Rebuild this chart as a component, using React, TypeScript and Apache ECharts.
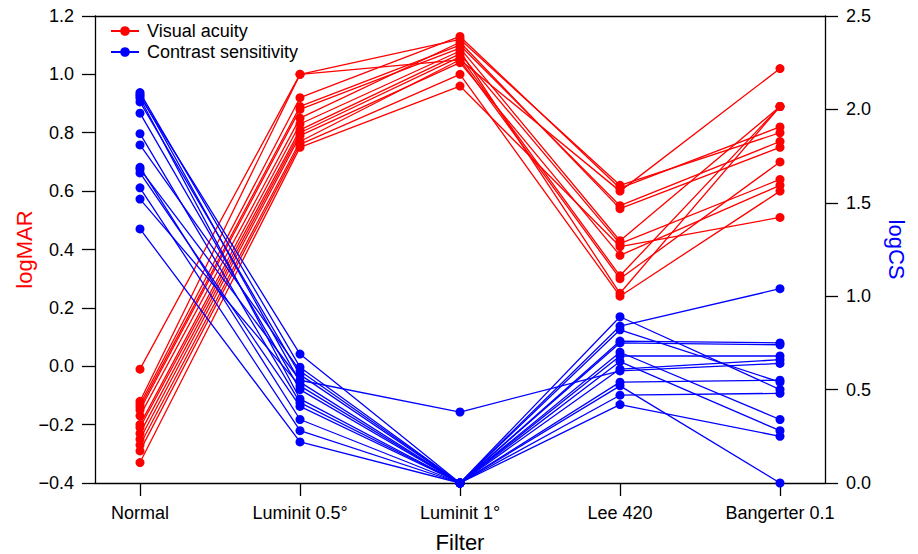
import React, { useEffect, useRef } from "react";
import * as echarts from "echarts";

const categories = ["Normal", "Luminit 0.5°", "Luminit 1°", "Lee 420", "Bangerter 0.1"];

// Visual acuity (logMAR), one entry per subject, per filter
const vaNormal = [-0.01, -0.12, -0.13, -0.14, -0.15, -0.17, -0.2, -0.21, -0.23, -0.25, -0.27, -0.29, -0.33];
const vaLuminit05 = [1.0, 1.0, 0.92, 0.89, 0.88, 0.85, 0.83, 0.81, 0.8, 0.79, 0.77, 0.76, 0.75];
const vaLuminit1 = [1.05, 1.12, 1.13, 1.1, 1.09, 1.11, 1.08, 1.07, 1.06, 1.04, 1.05, 1.0, 0.96];
const vaLee420 = [0.6, 0.62, 0.61, 0.55, 0.43, 0.54, 0.25, 0.42, 0.31, 0.38, 0.3, 0.24, 0.41];
const vaBangerter = [1.02, 0.8, 0.82, 0.77, 0.89, 0.75, 0.89, 0.64, 0.89, 0.62, 0.7, 0.6, 0.51];

// Contrast sensitivity (logCS), one entry per subject, per filter
const csNormal = [2.09, 2.08, 2.07, 2.06, 2.04, 1.98, 1.87, 1.81, 1.69, 1.68, 1.66, 1.58, 1.52, 1.36];
const csLuminit05 = [0.62, 0.54, 0.69, 0.45, 0.58, 0.5, 0.43, 0.6, 0.34, 0.55, 0.41, 0.28, 0.52, 0.22];
const csLuminit1 = [0, 0, 0, 0, 0, 0, 0, 0, 0, 0.38, 0, 0, 0, 0];
const csLee420 = [0.89, 0.84, 0.76, 0.82, 0.75, 0.7, 0.68, 0.65, 0.61, 0.6, 0.54, 0.52, 0.47, 0.42];
const csBangerter = [0.5, 1.04, 0.75, 0.54, 0.74, 0.34, 0.68, 0.28, 0.66, 0.64, 0.55, 0.0, 0.48, 0.25];

const leftTicks = [-0.4, 1.2, 0.2];
const rightTicks = [0, 2.5, 0.5];

const FONT = "Liberation Sans, Arial, Helvetica, sans-serif";
const RED = "#ff0000";
const BLUE = "#0000ff";

export default function App() {
  const ref = useRef<HTMLDivElement>(null);
  useEffect(() => {
    if (!ref.current) return;
    const chart = echarts.init(ref.current, undefined, { renderer: "svg" });
    const vaRows = [vaNormal, vaLuminit05, vaLuminit1, vaLee420, vaBangerter];
    const csRows = [csNormal, csLuminit05, csLuminit1, csLee420, csBangerter];
    const mk = (rows: number[][], i: number) => rows.map((r, c) => [c, r[i]]);
    const series: any[] = [];
    vaNormal.forEach((_, i) => {
      series.push({
        name: "Visual acuity",
        type: "line",
        xAxisIndex: 0,
        yAxisIndex: 0,
        data: mk(vaRows, i),
        symbol: "circle",
        symbolSize: 9,
        color: RED,
        lineStyle: { color: RED, width: 1.3 },
        itemStyle: { color: RED },
        emphasis: { disabled: true },
      });
    });
    csNormal.forEach((_, i) => {
      series.push({
        name: "Contrast sensitivity",
        type: "line",
        xAxisIndex: 0,
        yAxisIndex: 1,
        data: mk(csRows, i),
        symbol: "circle",
        symbolSize: 9,
        color: BLUE,
        lineStyle: { color: BLUE, width: 1.3 },
        itemStyle: { color: BLUE },
        emphasis: { disabled: true },
      });
    });
    const fmt = (v: number) => (v < 0 ? "\u2212" + Math.abs(v).toFixed(1) : v.toFixed(1));
    const axisLine = { show: true, onZero: false, lineStyle: { color: "#000", width: 1.3 } };
    chart.setOption({
      animation: false,
      textStyle: { fontFamily: FONT },
      grid: { left: 95, right: 93, top: 16, bottom: 71, containLabel: false, outerBoundsMode: "none" },
      legend: {
        orient: "vertical",
        left: 110,
        top: 22,
        padding: 0,
        itemWidth: 28,
        itemHeight: 12,
        itemGap: 3,
        data: ["Visual acuity", "Contrast sensitivity"],
        textStyle: { fontFamily: FONT, fontSize: 18, color: "#000", padding: [0, 0, 0, 3] },
      },
      xAxis: [
        {
          type: "value",
          min: -0.28125,
          max: 4.28125,
          name: "Filter",
          nameLocation: "middle",
          nameGap: 48,
          nameMoveOverlap: false,
          nameTextStyle: { fontFamily: FONT, fontSize: 22, color: "#000" },
          axisLine,
          splitLine: { show: false },
          axisTick: { show: true, customValues: [0, 1, 2, 3, 4], length: 13, lineStyle: { color: "#000", width: 1.3 } },
          axisLabel: {
            customValues: [0, 1, 2, 3, 4],
            formatter: (v: number) => categories[Math.round(v)] ?? "",
            fontFamily: FONT,
            fontSize: 18,
            color: "#000",
            margin: 21,
          },
        },
        {
          type: "value",
          position: "top",
          min: -0.28125,
          max: 4.28125,
          axisLine,
          axisTick: { show: false },
          axisLabel: { show: false },
          splitLine: { show: false },
        },
      ],
      yAxis: [
        {
          type: "value",
          position: "left",
          min: leftTicks[0],
          max: leftTicks[1],
          interval: leftTicks[2],
          name: "logMAR",
          nameLocation: "middle",
          nameGap: 60,
          nameMoveOverlap: false,
          nameTextStyle: { fontFamily: FONT, fontSize: 22, color: RED },
          axisLine,
          splitLine: { show: false },
          axisTick: { show: true, length: 13, lineStyle: { color: "#000", width: 1.3 } },
          axisLabel: { formatter: fmt, fontFamily: FONT, fontSize: 18, color: "#000", margin: 21 },
        },
        {
          type: "value",
          position: "right",
          min: rightTicks[0],
          max: rightTicks[1],
          interval: rightTicks[2],
          name: "logCS",
          nameLocation: "middle",
          nameRotate: -90,
          nameGap: 60,
          nameMoveOverlap: false,
          nameTextStyle: { fontFamily: FONT, fontSize: 22, color: BLUE },
          axisLine,
          splitLine: { show: false },
          axisTick: { show: true, length: 13, lineStyle: { color: "#000", width: 1.3 } },
          axisLabel: { formatter: (v: number) => v.toFixed(1), fontFamily: FONT, fontSize: 18, color: "#000", margin: 21 },
        },
      ],
      series,
    });
    return () => chart.dispose();
  }, []);
  return (
    <div
      ref={ref}
      style={{ position: "fixed", left: 0, top: 0, width: 918, height: 554, background: "#fff" }}
    />
  );
}
